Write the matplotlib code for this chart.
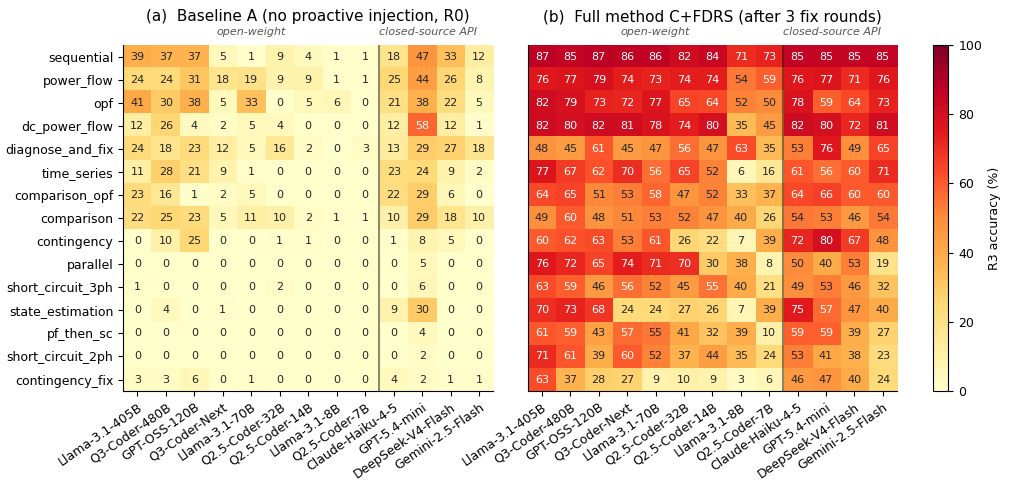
import matplotlib.pyplot as plt
import numpy as np

tasks = ['sequential', 'power_flow', 'opf', 'dc_power_flow', 'diagnose_and_fix',
         'time_series', 'comparison_opf', 'comparison', 'contingency', 'parallel',
         'short_circuit_3ph', 'state_estimation', 'pf_then_sc', 'short_circuit_2ph',
         'contingency_fix']
models = ['Llama-3.1-405B', 'Q3-Coder-480B', 'GPT-OSS-120B', 'Q3-Coder-Next',
          'Llama-3.1-70B', 'Q2.5-Coder-32B', 'Q2.5-Coder-14B', 'Llama-3.1-8B',
          'Q2.5-Coder-7B', 'Claude-Haiku-4-5', 'GPT-5.4-mini', 'DeepSeek-V4-Flash',
          'Gemini-2.5-Flash']
n_open = 9  # first 9 models are open-weight

# R3 accuracy (%) - baseline A, round 0
baseline = [
    [39, 37, 37, 5, 1, 9, 4, 1, 1, 18, 47, 33, 12],
    [24, 24, 31, 18, 19, 9, 9, 1, 1, 25, 44, 26, 8],
    [41, 30, 38, 5, 33, 0, 5, 6, 0, 21, 38, 22, 5],
    [12, 26, 4, 2, 5, 4, 0, 0, 0, 12, 58, 12, 1],
    [24, 18, 23, 12, 5, 16, 2, 0, 3, 13, 29, 27, 18],
    [11, 28, 21, 9, 1, 0, 0, 0, 0, 23, 24, 9, 2],
    [23, 16, 1, 2, 5, 0, 0, 0, 0, 22, 29, 6, 0],
    [22, 25, 23, 5, 11, 10, 2, 1, 1, 10, 29, 18, 10],
    [0, 10, 25, 0, 0, 1, 1, 0, 0, 1, 8, 5, 0],
    [0, 0, 0, 0, 0, 0, 0, 0, 0, 0, 5, 0, 0],
    [1, 0, 0, 0, 0, 2, 0, 0, 0, 0, 6, 0, 0],
    [0, 4, 0, 1, 0, 0, 0, 0, 0, 9, 30, 0, 0],
    [0, 0, 0, 0, 0, 0, 0, 0, 0, 0, 4, 0, 0],
    [0, 0, 0, 0, 0, 0, 0, 0, 0, 0, 2, 0, 0],
    [3, 3, 6, 0, 1, 0, 0, 0, 0, 4, 2, 1, 1],
]

# R3 accuracy (%) - full method C+FDRS after 3 fix rounds
full = [
    [87, 85, 87, 86, 86, 82, 84, 71, 73, 85, 85, 85, 85],
    [76, 77, 79, 74, 73, 74, 74, 54, 59, 76, 77, 71, 76],
    [82, 79, 73, 72, 77, 65, 64, 52, 50, 78, 59, 64, 73],
    [82, 80, 82, 81, 78, 74, 80, 35, 45, 82, 80, 72, 81],
    [48, 45, 61, 45, 47, 56, 47, 63, 35, 53, 76, 49, 65],
    [77, 67, 62, 70, 56, 65, 52, 6, 16, 61, 56, 60, 71],
    [64, 65, 51, 53, 58, 47, 52, 33, 37, 64, 66, 60, 60],
    [49, 60, 48, 51, 53, 52, 47, 40, 26, 54, 53, 46, 54],
    [60, 62, 63, 53, 61, 26, 22, 7, 39, 72, 80, 67, 48],
    [76, 72, 65, 74, 71, 70, 30, 38, 8, 50, 40, 53, 19],
    [63, 59, 46, 56, 52, 45, 55.4, 40, 21, 49, 53, 46, 32],
    [70, 73, 68, 24, 24, 27, 26, 7, 39, 75, 57, 47, 40],
    [61, 59, 43, 57, 54.6, 41, 32, 39, 10, 59, 59, 39, 27],
    [71, 61, 39, 60, 52, 37, 44, 35, 24, 53, 41, 38, 23],
    [63, 37, 28, 27, 9, 10, 9, 3, 6, 46, 47, 40, 24],
]

titles = ['(a)  Baseline A (no proactive injection, R0)',
          '(b)  Full method C+FDRS (after 3 fix rounds)']

fig = plt.figure(figsize=(10.09, 4.84), dpi=100)
ax1 = fig.add_axes([0.122, 0.192, 0.367, 0.715])
ax2 = fig.add_axes([0.523, 0.192, 0.366, 0.715])
cax = fig.add_axes([0.925, 0.192, 0.015, 0.715])

for ax, data, title in zip([ax1, ax2], [baseline, full], titles):
    arr = np.array(data, dtype=float)
    im = ax.imshow(arr, cmap='YlOrRd', vmin=0, vmax=100, aspect='auto',
                   interpolation='nearest')
    for i in range(arr.shape[0]):
        for j in range(arr.shape[1]):
            v = arr[i, j]
            ax.text(j, i, '%.0f' % v, ha='center', va='center', fontsize=8,
                    color='white' if v >= 55 else '#262626')
    ax.axvline(n_open - 0.5, color='black', alpha=0.45, lw=1.5)
    ax.set_xticks(range(len(models)))
    ax.set_xticklabels(models, rotation=35, ha='right', rotation_mode='anchor',
                       fontsize=9)
    ax.spines['top'].set_visible(False)
    ax.spines['right'].set_visible(False)
    ax.set_title(title, fontsize=11, pad=17)
    ax.text((n_open - 1) / 2, -0.85, 'open-weight', ha='center', va='bottom',
            fontsize=8, style='italic', color='#555555')
    ax.text(10.2, -0.85, 'closed-source API', ha='center', va='bottom',
            fontsize=8, style='italic', color='#555555')

ax1.set_yticks(range(len(tasks)))
ax1.set_yticklabels(tasks, fontsize=9)
ax2.set_yticks([])

cb = fig.colorbar(im, cax=cax)
cb.set_label('R3 accuracy (%)', fontsize=9)
cb.ax.tick_params(labelsize=9)

fig.savefig('out.png', dpi=100)
